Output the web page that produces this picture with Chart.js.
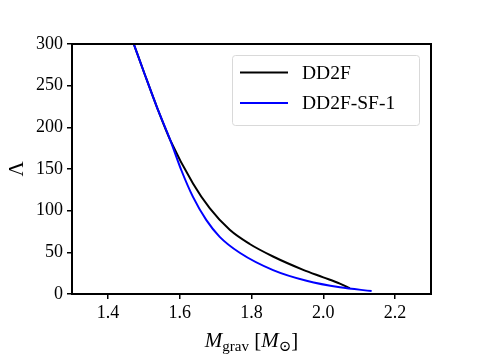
<!DOCTYPE html>
<html>
<head>
<meta charset="utf-8">
<script src="https://cdn.jsdelivr.net/npm/chart.js@4.4.0/dist/chart.umd.min.js"></script>
<style>
  html, body { margin: 0; padding: 0; background: #fff; }
  #wrap { width: 479px; height: 359px; }
</style>
</head>
<body>
<div id="wrap"><canvas id="chart" width="479" height="359"></canvas></div>
<script>
// data
const dd2fMass   = [1.472, 1.502, 1.5365, 1.574, 1.637, 1.6835, 1.7393, 1.795, 1.86, 1.944, 2.0, 2.0462, 2.074];
const dd2fLambda = [300,   264.3, 224.3,  184.4, 132.6, 103,    77,     60,    45,   29,    20,  12.5,   7];
const sfMass     = [1.472, 1.502, 1.5365, 1.574, 1.6046, 1.637, 1.6743, 1.7114, 1.7672, 1.8601, 1.9533, 2.0462, 2.1346];
const sfLambda   = [300,   264.3, 224.3,  184.4, 148.5,  116.5, 88.6,   68.6,   49.5,   28.7,   15.9,   8.0,    3.6];
const xTickValues = [1.4, 1.6, 1.8, 2.0, 2.2];
const yTickValues = [0, 50, 100, 150, 200, 250, 300];

const serif = '"Liberation Serif", "DejaVu Serif", serif';
const toPts = (xs, ys) => xs.map((x, i) => ({ x, y: ys[i] }));

// frame, axis titles and legend box
const extras = {
  id: 'extras',
  afterDraw(chart) {
    const { ctx, chartArea: a } = chart;
    ctx.save();
    ctx.strokeStyle = '#000';
    ctx.lineWidth = 2;
    ctx.strokeRect(a.left, a.top, a.right - a.left, a.bottom - a.top);

    // x title: M_grav [M_sun]
    ctx.fillStyle = '#000';
    ctx.textBaseline = 'alphabetic';
    const big = 'italic 21px ' + serif, reg = '21px ' + serif, small = '15px ' + serif;
    const parts = [
      { t: 'M', f: big, dy: 0 }, { t: 'grav', f: small, dy: 4 },
      { t: ' [', f: reg, dy: 0 }, { t: 'M', f: big, dy: 0 },
      { t: '\u2299', f: small, dy: 4 }, { t: ']', f: reg, dy: 0 }
    ];
    let w = 0;
    parts.forEach(p => { ctx.font = p.f; w += ctx.measureText(p.t).width; });
    let x = (a.left + a.right) / 2 - w / 2;
    const y = 347;
    parts.forEach(p => { ctx.font = p.f; ctx.fillText(p.t, x, y + p.dy); x += ctx.measureText(p.t).width; });

    // y title
    ctx.save();
    ctx.translate(17, (a.top + a.bottom) / 2);
    ctx.rotate(-Math.PI / 2);
    ctx.font = '21px ' + serif;
    ctx.textAlign = 'center';
    ctx.textBaseline = 'middle';
    ctx.fillText('\u039B', 0, 0);
    ctx.restore();

    // legend
    const lx = 232, ly = 55, lw = 187, lh = 70;
    ctx.fillStyle = 'rgba(255,255,255,0.8)';
    ctx.strokeStyle = '#d9d9d9';
    ctx.lineWidth = 1;
    ctx.beginPath();
    ctx.roundRect(lx + 0.5, ly + 0.5, lw, lh, 3);
    ctx.fill();
    ctx.stroke();
    chart.data.datasets.forEach((ds, i) => {
      const yy = 72.5 + i * 30.5;
      ctx.strokeStyle = ds.borderColor;
      ctx.lineWidth = 2;
      ctx.beginPath();
      ctx.moveTo(240, yy);
      ctx.lineTo(288, yy);
      ctx.stroke();
      ctx.fillStyle = '#000';
      ctx.font = '19.5px ' + serif;
      ctx.textAlign = 'left';
      ctx.textBaseline = 'middle';
      ctx.fillText(ds.label, 302, yy + 1);
    });
    ctx.restore();
  }
};

new Chart(document.getElementById('chart').getContext('2d'), {
  type: 'scatter',
  data: {
    datasets: [
      { label: 'DD2F', data: toPts(dd2fMass, dd2fLambda), borderColor: '#000000', showLine: true, order: 1,
        borderWidth: 2, pointRadius: 0, cubicInterpolationMode: 'monotone' },
      { label: 'DD2F-SF-1', data: toPts(sfMass, sfLambda), borderColor: '#0000ff', showLine: true, order: 0,
        borderWidth: 2, pointRadius: 0, cubicInterpolationMode: 'monotone' }
    ]
  },
  options: {
    responsive: false, animation: false,
    layout: { padding: { left: 0, right: 48, top: 44, bottom: 0 } },
    plugins: { legend: { display: false }, tooltip: { enabled: false } },
    scales: {
      x: {
        type: 'linear', min: 1.3, max: 2.3,
        afterBuildTicks: s => { s.ticks = xTickValues.map(v => ({ value: v })); },
        afterFit: s => { s.height = 65; },
        ticks: { callback: v => v.toFixed(1), color: '#000', font: { family: serif, size: 18 }, padding: 3, maxRotation: 0 },
        grid: { drawOnChartArea: false, drawTicks: true, tickLength: 5, color: '#000', lineWidth: 1.5 },
        border: { display: true, color: '#000', width: 2 }
      },
      y: {
        type: 'linear', min: 0, max: 300,
        afterBuildTicks: s => { s.ticks = yTickValues.map(v => ({ value: v })); },
        afterFit: s => { s.width = 72; },
        ticks: { color: '#000', font: { family: serif, size: 18 }, padding: 4 },
        grid: { drawOnChartArea: false, drawTicks: true, tickLength: 5, color: '#000', lineWidth: 1.5 },
        border: { display: true, color: '#000', width: 2 }
      }
    }
  },
  plugins: [extras]
});
</script>
</body>
</html>
